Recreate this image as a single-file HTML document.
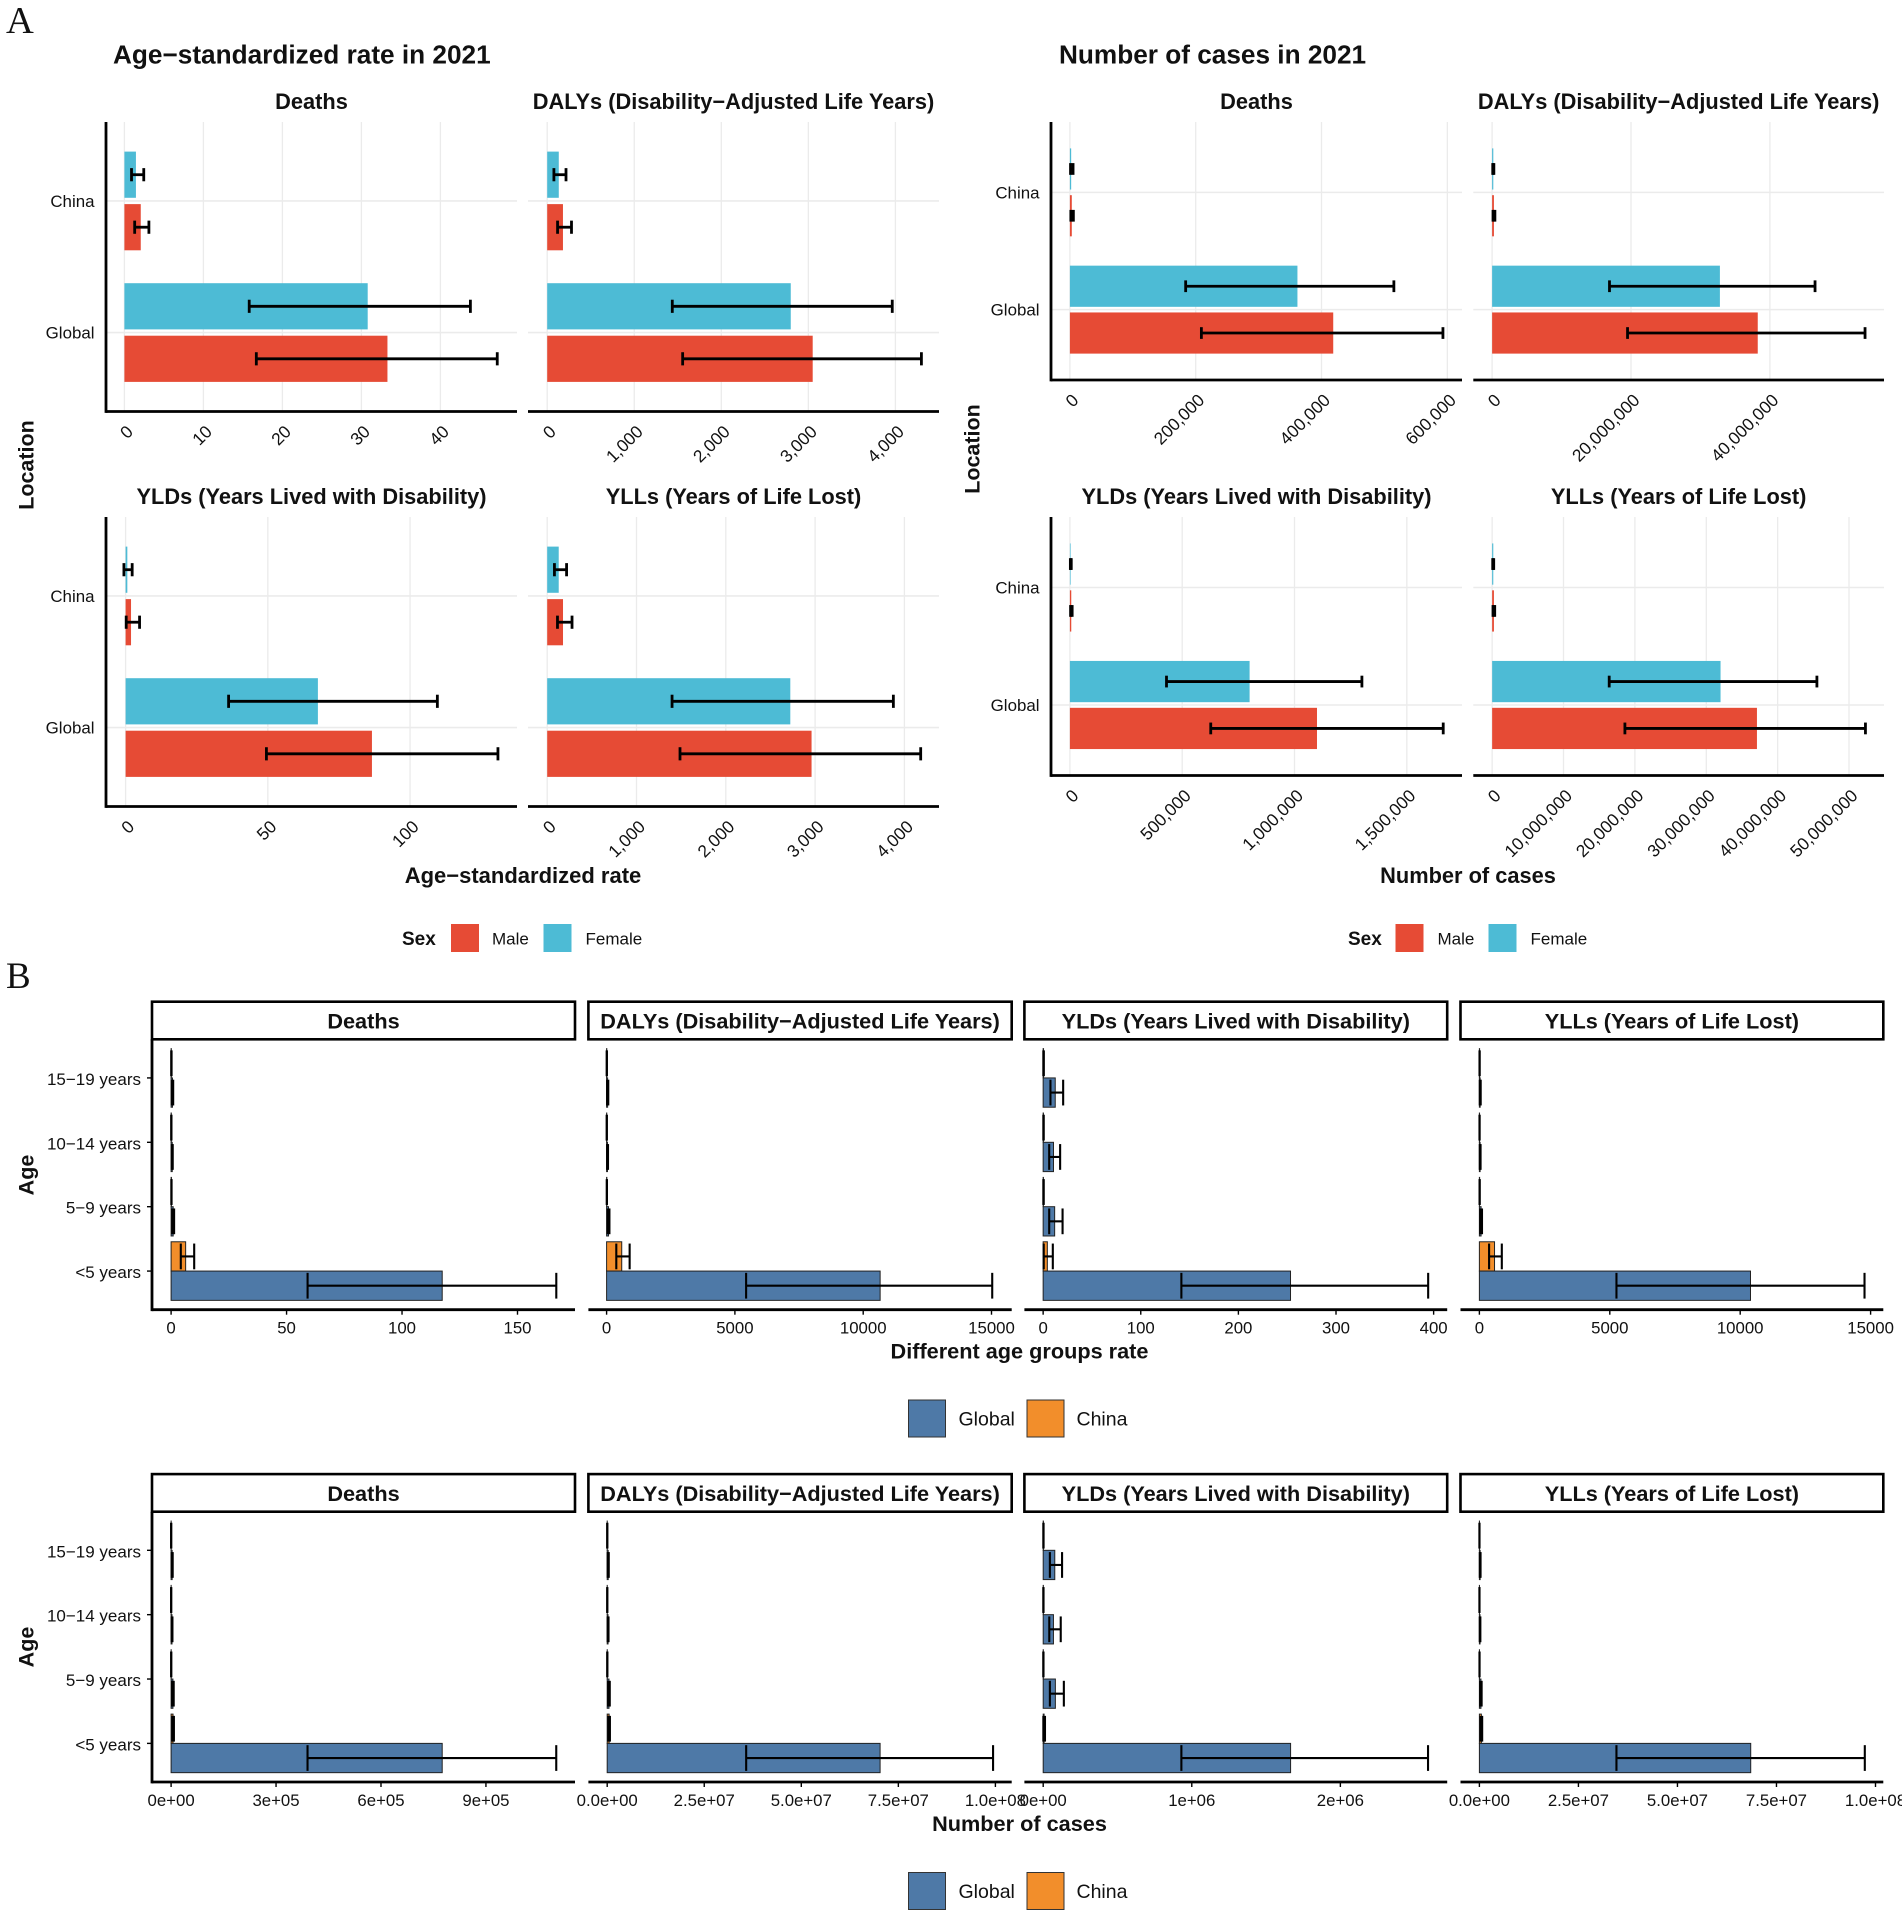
<!DOCTYPE html>
<html lang="en">
<head>
<meta charset="utf-8">
<title>Age-standardized rate and number of cases in 2021</title>
<style>
html,body{margin:0;padding:0;background:#fff;}
svg{display:block;}
text{font-family:"Liberation Sans",Arial,sans-serif;fill:#111;}
.serif{font-family:"Liberation Serif",serif;}
.b{font-weight:700;}
</style>
</head>
<body>
<svg id="figure" xmlns="http://www.w3.org/2000/svg" width="1902" height="1916" viewBox="0 0 1902 1916">
<rect x="0" y="0" width="1902" height="1916" fill="#fff"/>
<text class="serif" x="6" y="33" font-size="38.5" fill="#111">A</text>
<text class="serif" x="6" y="988" font-size="37" fill="#111">B</text>
<text class="b" x="113" y="63.5" font-size="26.2">Age−standardized rate in 2021</text>
<text class="b" x="1059" y="63.5" font-size="26.2">Number of cases in 2021</text>
<text class="b" x="523" y="883" font-size="22" text-anchor="middle">Age−standardized rate</text>
<text class="b" x="1468" y="883" font-size="21.8" text-anchor="middle">Number of cases</text>
<text class="b" transform="translate(33.5,465) rotate(-90)" font-size="21.5" text-anchor="middle">Location</text>
<text class="b" transform="translate(979.5,449) rotate(-90)" font-size="21.5" text-anchor="middle">Location</text>
<g>
<text class="b" x="402" y="945" font-size="19">Sex</text>
<rect x="451" y="924" width="28" height="28" fill="#E64B35"/>
<text x="492" y="944.5" font-size="17">Male</text>
<rect x="543.5" y="924" width="28" height="28" fill="#4DBBD5"/>
<text x="585.5" y="944.5" font-size="17">Female</text>
</g>
<g>
<text class="b" x="1348" y="945" font-size="19">Sex</text>
<rect x="1395.5" y="924" width="28" height="28" fill="#E64B35"/>
<text x="1437.5" y="944.5" font-size="17">Male</text>
<rect x="1488.5" y="924" width="28" height="28" fill="#4DBBD5"/>
<text x="1530.5" y="944.5" font-size="17">Female</text>
</g>
<text class="b" x="1019.5" y="1358.5" font-size="21.7" text-anchor="middle">Different age groups rate</text>
<text class="b" x="1019.5" y="1831" font-size="21.7" text-anchor="middle">Number of cases</text>
<text class="b" transform="translate(33.5,1175) rotate(-90)" font-size="21.5" text-anchor="middle">Age</text>
<text class="b" transform="translate(33.5,1647) rotate(-90)" font-size="21.5" text-anchor="middle">Age</text>
<g>
<rect x="908.5" y="1400" width="37" height="37" fill="#4E79A7" stroke="#333" stroke-width="1"/>
<text x="958.5" y="1425.5" font-size="19.5">Global</text>
<rect x="1027" y="1400" width="37" height="37" fill="#F28E2B" stroke="#333" stroke-width="1"/>
<text x="1076.5" y="1425.5" font-size="19.5">China</text>
</g>
<g>
<rect x="908.5" y="1872.5" width="37" height="37" fill="#4E79A7" stroke="#333" stroke-width="1"/>
<text x="958.5" y="1898" font-size="19.5">Global</text>
<rect x="1027" y="1872.5" width="37" height="37" fill="#F28E2B" stroke="#333" stroke-width="1"/>
<text x="1076.5" y="1898" font-size="19.5">China</text>
</g>
</svg>
<script>
/* ---------- shared categories and titles ---------- */
const locations = ['China', 'Global'];
const ageGroups = ['15−19 years', '10−14 years', '5−9 years', '<5 years'];
const measureTitles = ['Deaths', 'DALYs (Disability−Adjusted Life Years)', 'YLDs (Years Lived with Disability)', 'YLLs (Years of Life Lost)'];

/* ---------- A: age-standardized rate, values are [China, Global] ---------- */
const rateDeathsFemale = [1.46, 30.8];
const rateDeathsFemaleLow = [0.9, 15.8];
const rateDeathsFemaleHigh = [2.45, 43.8];
const rateDeathsMale = [2.07, 33.3];
const rateDeathsMaleLow = [1.3, 16.7];
const rateDeathsMaleHigh = [3.1, 47.2];
const rateDeathsDomain = [-2.33, 49.7];
const rateDeathsTicks = ['0', '10', '20', '30', '40'];

const rateDalysFemale = [133, 2798];
const rateDalysFemaleLow = [77, 1437];
const rateDalysFemaleHigh = [216, 3964];
const rateDalysMale = [181, 3050];
const rateDalysMaleLow = [119, 1556];
const rateDalysMaleHigh = [279, 4299];
const rateDalysDomain = [-220.6, 4501];
const rateDalysTicks = ['0', '1,000', '2,000', '3,000', '4,000'];

const rateYldsFemale = [0.6, 67.6];
const rateYldsFemaleLow = [-0.6, 36.2];
const rateYldsFemaleHigh = [2.3, 109.6];
const rateYldsMale = [1.9, 86.6];
const rateYldsMaleLow = [0.2, 49.5];
const rateYldsMaleHigh = [4.9, 130.9];
const rateYldsDomain = [-6.9, 137.6];
const rateYldsTicks = ['0', '50', '100'];

const rateYllsFemale = [129, 2722];
const rateYllsFemaleLow = [81, 1398];
const rateYllsFemaleHigh = [217, 3876];
const rateYllsMale = [177, 2960];
const rateYllsMaleLow = [115, 1487];
const rateYllsMaleHigh = [278, 4182];
const rateYllsDomain = [-215, 4387];
const rateYllsTicks = ['0', '1,000', '2,000', '3,000', '4,000'];

/* ---------- A: number of cases, values are [China, Global] ---------- */
const casesDeathsFemale = [2000, 361700];
const casesDeathsFemaleLow = [1000, 184000];
const casesDeathsFemaleHigh = [5000, 515000];
const casesDeathsMale = [3000, 418600];
const casesDeathsMaleLow = [1500, 209000];
const casesDeathsMaleHigh = [5500, 593000];
const casesDeathsDomain = [-30060, 623300];
const casesDeathsTicks = ['0', '200,000', '400,000', '600,000'];

const casesDalysFemale = [170000, 32800000];
const casesDalysFemaleLow = [90000, 16900000];
const casesDalysFemaleHigh = [250000, 46500000];
const casesDalysMale = [260000, 38250000];
const casesDalysMaleLow = [130000, 19500000];
const casesDalysMaleHigh = [400000, 53700000];
const casesDalysDomain = [-2710000, 56430000];
const casesDalysTicks = ['0', '20,000,000', '40,000,000'];

const casesYldsFemale = [3000, 800000];
const casesYldsFemaleLow = [2000, 430000];
const casesYldsFemaleHigh = [6000, 1300000];
const casesYldsMale = [6000, 1100000];
const casesYldsMaleLow = [3000, 627000];
const casesYldsMaleHigh = [10000, 1662000];
const casesYldsDomain = [-84200, 1745600];
const casesYldsTicks = ['0', '500,000', '1,000,000', '1,500,000'];

const casesYllsFemale = [160000, 32000000];
const casesYllsFemaleLow = [80000, 16400000];
const casesYllsFemaleHigh = [220000, 45500000];
const casesYllsMale = [250000, 37100000];
const casesYllsMaleLow = [120000, 18600000];
const casesYllsMaleHigh = [360000, 52300000];
const casesYllsDomain = [-2640000, 54900000];
const casesYllsTicks = ['0', '10,000,000', '20,000,000', '30,000,000', '40,000,000', '50,000,000'];

/* ---------- B: age-group rate, values follow ageGroups ---------- */
const ageRateDeathsGlobal = [0.6, 0.5, 0.9, 117.4];
const ageRateDeathsGlobalLow = [0.3, 0.3, 0.5, 59.1];
const ageRateDeathsGlobalHigh = [0.9, 0.7, 1.3, 166.8];
const ageRateDeathsChina = [0.1, 0.1, 0.15, 6.3];
const ageRateDeathsChinaLow = [0.05, 0.05, 0.1, 4.2];
const ageRateDeathsChinaHigh = [0.2, 0.15, 0.2, 10];
const ageRateDeathsDomain = [-8.27, 174.9];
const ageRateDeathsTicks = ['0', '50', '100', '150'];

const ageRateDalysGlobal = [40, 35, 75, 10660];
const ageRateDalysGlobalLow = [20, 20, 40, 5437];
const ageRateDalysGlobalHigh = [65, 55, 110, 15028];
const ageRateDalysChina = [8, 7, 10, 590];
const ageRateDalysChinaLow = [5, 5, 7, 378];
const ageRateDalysChinaHigh = [12, 10, 14, 898];
const ageRateDalysDomain = [-709, 15787];
const ageRateDalysTicks = ['0', '5000', '10000', '15000'];

const ageRateYldsGlobal = [12.4, 10.6, 11.8, 253.4];
const ageRateYldsGlobalLow = [7.5, 6.2, 6.2, 141.6];
const ageRateYldsGlobalHigh = [20.5, 17.4, 19.9, 394.4];
const ageRateYldsChina = [0.4, 0.3, 0.3, 4.3];
const ageRateYldsChinaLow = [0.2, 0.2, 0.2, 0.6];
const ageRateYldsChinaHigh = [0.7, 0.6, 0.6, 9.9];
const ageRateYldsDomain = [-19.2, 413.9];
const ageRateYldsTicks = ['0', '100', '200', '300', '400'];

const ageRateYllsGlobal = [30, 28, 65, 10395];
const ageRateYllsGlobalLow = [15, 15, 35, 5256];
const ageRateYllsGlobalHigh = [50, 45, 100, 14767];
const ageRateYllsChina = [8, 6, 9, 581];
const ageRateYllsChinaLow = [5, 4, 6, 372];
const ageRateYllsChinaHigh = [11, 9, 13, 860];
const ageRateYllsDomain = [-724, 15487];
const ageRateYllsTicks = ['0', '5000', '10000', '15000'];

/* ---------- B: age-group number of cases, values follow ageGroups ---------- */
const ageCasesDeathsGlobal = [3000, 2600, 5200, 775000];
const ageCasesDeathsGlobalLow = [1500, 1500, 2900, 390000];
const ageCasesDeathsGlobalHigh = [4500, 3800, 7400, 1101000];
const ageCasesDeathsChina = [200, 200, 300, 5500];
const ageCasesDeathsChinaLow = [100, 100, 200, 3500];
const ageCasesDeathsChinaHigh = [300, 300, 400, 8000];
const ageCasesDeathsDomain = [-54600, 1154600];
const ageCasesDeathsTicks = ['0e+00', '3e+05', '6e+05', '9e+05'];

const ageCasesDalysGlobal = [260000, 220000, 460000, 70300000];
const ageCasesDalysGlobalLow = [130000, 120000, 250000, 35800000];
const ageCasesDalysGlobalHigh = [400000, 340000, 660000, 99400000];
const ageCasesDalysChina = [20000, 20000, 30000, 500000];
const ageCasesDalysChinaLow = [10000, 10000, 20000, 300000];
const ageCasesDalysChinaHigh = [30000, 30000, 40000, 700000];
const ageCasesDalysDomain = [-4840000, 104200000];
const ageCasesDalysTicks = ['0.0e+00', '2.5e+07', '5.0e+07', '7.5e+07', '1.0e+08'];

const ageCasesYldsGlobal = [78000, 69000, 82000, 1665000];
const ageCasesYldsGlobalLow = [45000, 41000, 45000, 930000];
const ageCasesYldsGlobalHigh = [127000, 118000, 139000, 2590000];
const ageCasesYldsChina = [1500, 1200, 1000, 6000];
const ageCasesYldsChinaLow = [800, 700, 600, 1000];
const ageCasesYldsChinaHigh = [2500, 2200, 2000, 12000];
const ageCasesYldsDomain = [-126500, 2719000];
const ageCasesYldsTicks = ['0e+00', '1e+06', '2e+06'];

const ageCasesYllsGlobal = [190000, 160000, 390000, 68500000];
const ageCasesYllsGlobalLow = [100000, 90000, 210000, 34600000];
const ageCasesYllsGlobalHigh = [290000, 240000, 560000, 97300000];
const ageCasesYllsChina = [20000, 20000, 30000, 500000];
const ageCasesYllsChinaLow = [10000, 10000, 20000, 300000];
const ageCasesYllsChinaHigh = [30000, 30000, 40000, 700000];
const ageCasesYllsDomain = [-4770000, 101970000];
const ageCasesYllsTicks = ['0.0e+00', '2.5e+07', '5.0e+07', '7.5e+07', '1.0e+08'];

/* ---------- drawing helpers ---------- */
const SVG_NS = 'http://www.w3.org/2000/svg';
const figure = document.getElementById('figure');

function make(tag, attrs, parent) {
  const el = document.createElementNS(SVG_NS, tag);
  for (const k in attrs) el.setAttribute(k, attrs[k]);
  parent.appendChild(el);
  return el;
}
function line(parent, x1, y1, x2, y2, stroke, width) {
  return make('line', { x1: x1, y1: y1, x2: x2, y2: y2, stroke: stroke, 'stroke-width': width }, parent);
}
function label(parent, str, x, y, size, anchor, bold) {
  const t = make('text', { x: x, y: y + size * 0.35, 'font-size': size, 'text-anchor': anchor }, parent);
  if (bold) t.setAttribute('font-weight', '700');
  t.textContent = str;
  return t;
}
function linearX(domain, left, right) {
  return function (v) { return left + (v - domain[0]) / (domain[1] - domain[0]) * (right - left); };
}
function bandY(count, top, bottom) {
  const step = (bottom - top) / (count - 1 + 1.2);
  const at = function (i) { return top + 0.6 * step + i * step; };
  at.step = step;
  return at;
}
function tickValue(str) { return Number(str.replace(/,/g, '')); }

function errorBar(parent, x, yMid, capH, low, high, width) {
  const g = make('g', {}, parent);
  
  
  const stem = line(g, x(low), yMid, x(high), yMid, '#000', width);
  
  
  const capLow = line(g, x(low), yMid - capH / 2, x(low), yMid + capH / 2, '#000', width);
  
  
  const capHigh = line(g, x(high), yMid - capH / 2, x(high), yMid + capH / 2, '#000', width);
  
  
}

/* A-style panel: gridlines, no strip box, rotated tick labels */
function drawSexPanel(cfg) {
  const g = make('g', {}, figure);
  
  
  const x = linearX(cfg.domain, cfg.left, cfg.right);
  const y = bandY(locations.length, cfg.top, cfg.bottom);
  const barH = 0.351 * y.step;
  const gap = 0.024 * y.step;

  const title = label(g, cfg.title, (cfg.left + cfg.right) / 2, cfg.top - 20.5, 21.8, 'middle', true);
  
  

  cfg.ticks.forEach(function (t) {
    const gl = line(g, x(tickValue(t)), cfg.top, x(tickValue(t)), cfg.bottom, '#ebebeb', 1.3);
    
    
  });
  locations.forEach(function (loc, i) {
    const gl = line(g, cfg.left, y(i), cfg.right, y(i), '#ebebeb', 1.6);
    
    
  });

  locations.forEach(function (loc, i) {
    const fy = y(i) - gap - barH;
    const my = y(i) + gap;
    const female = make('rect', { x: x(0), y: fy, width: x(cfg.female[i]) - x(0), height: barH, fill: '#4DBBD5' }, g);
    
    
    const male = make('rect', { x: x(0), y: my, width: x(cfg.male[i]) - x(0), height: barH, fill: '#E64B35' }, g);
    
    
    errorBar(g, x, fy + barH / 2, 0.1 * y.step, cfg.femaleLow[i], cfg.femaleHigh[i], 2.8);
    errorBar(g, x, my + barH / 2, 0.1 * y.step, cfg.maleLow[i], cfg.maleHigh[i], 2.8);
  });

  const axis = line(g, cfg.left, cfg.bottom, cfg.right, cfg.bottom, '#000', 2.8);
  
  
  if (cfg.showY) {
    const yAxis = line(g, cfg.left, cfg.top, cfg.left, cfg.bottom + 1.4, '#000', 2.8);
    
    
    locations.forEach(function (loc, i) {
      const yl = label(g, loc, cfg.left - 11.5, y(i), 16.9, 'end', false);
      
      
    });
  }
  cfg.ticks.forEach(function (t) {
    const tl = make('text', { transform: 'translate(' + (x(tickValue(t)) + 0.5) + ',' + (cfg.bottom + 12) + ') rotate(-45)', 'font-size': 17.4, 'text-anchor': 'end', dy: '0.75em' }, g);
    tl.textContent = t;
    
    
  });
}

/* B-style panel: boxed strip title, axis ticks, horizontal tick labels */
function drawAgePanel(cfg) {
  const g = make('g', {}, figure);
  
  
  const x = linearX(cfg.domain, cfg.left, cfg.right);
  const y = bandY(ageGroups.length, cfg.top, cfg.bottom);
  const barH = 0.455 * y.step;

  const strip = make('rect', { x: cfg.left, y: cfg.top - cfg.stripH, width: cfg.right - cfg.left, height: cfg.stripH, fill: '#fff', stroke: '#000', 'stroke-width': 2.6 }, g);
  
  
  const title = label(g, cfg.title, (cfg.left + cfg.right) / 2, cfg.top - cfg.stripH / 2 + 0.5, 21.7, 'middle', true);
  
  

  ageGroups.forEach(function (age, i) {
    const cy = y(i) - barH;
    const gy = y(i);
    const china = make('rect', { x: x(0), y: cy, width: Math.max(0, x(cfg.china[i]) - x(0)), height: barH, fill: '#F28E2B', stroke: '#222', 'stroke-width': 1 }, g);
    
    
    const global = make('rect', { x: x(0), y: gy, width: Math.max(0, x(cfg.global[i]) - x(0)), height: barH, fill: '#4E79A7', stroke: '#222', 'stroke-width': 1 }, g);
    
    
    errorBar(g, x, cy + barH / 2, 0.4 * y.step, cfg.chinaLow[i], cfg.chinaHigh[i], 2.1);
    errorBar(g, x, gy + barH / 2, 0.4 * y.step, cfg.globalLow[i], cfg.globalHigh[i], 2.1);
  });

  const axis = line(g, cfg.left, cfg.bottom, cfg.right, cfg.bottom, '#000', 2.8);
  
  
  cfg.ticks.forEach(function (t) {
    const px = x(tickValue(t));
    const mark = line(g, px, cfg.bottom, px, cfg.bottom + 5, '#000', 1.4);
    
    
    const tl = label(g, t, px, cfg.bottom + 18, 16.8, 'middle', false);
    
    
  });
  if (cfg.showY) {
    const yAxis = line(g, cfg.left, cfg.top, cfg.left, cfg.bottom + 1.4, '#000', 2.8);
    
    
    ageGroups.forEach(function (age, i) {
      const mark = line(g, cfg.left - 5, y(i), cfg.left, y(i), '#000', 1.4);
      
      
      const yl = label(g, age, cfg.left - 11, y(i) + 1, 17, 'end', false);
      
      
    });
  }
}

/* ---------- panels: A ---------- */
drawSexPanel({ name: 'rate-deaths-panel', title: measureTitles[0], left: 106, right: 517, top: 122, bottom: 411.5, showY: true, domain: rateDeathsDomain, ticks: rateDeathsTicks, female: rateDeathsFemale, femaleLow: rateDeathsFemaleLow, femaleHigh: rateDeathsFemaleHigh, male: rateDeathsMale, maleLow: rateDeathsMaleLow, maleHigh: rateDeathsMaleHigh });
drawSexPanel({ name: 'rate-dalys-panel', title: measureTitles[1], left: 528, right: 939, top: 122, bottom: 411.5, showY: false, domain: rateDalysDomain, ticks: rateDalysTicks, female: rateDalysFemale, femaleLow: rateDalysFemaleLow, femaleHigh: rateDalysFemaleHigh, male: rateDalysMale, maleLow: rateDalysMaleLow, maleHigh: rateDalysMaleHigh });
drawSexPanel({ name: 'rate-ylds-panel', title: measureTitles[2], left: 106, right: 517, top: 517, bottom: 806.5, showY: true, domain: rateYldsDomain, ticks: rateYldsTicks, female: rateYldsFemale, femaleLow: rateYldsFemaleLow, femaleHigh: rateYldsFemaleHigh, male: rateYldsMale, maleLow: rateYldsMaleLow, maleHigh: rateYldsMaleHigh });
drawSexPanel({ name: 'rate-ylls-panel', title: measureTitles[3], left: 528, right: 939, top: 517, bottom: 806.5, showY: false, domain: rateYllsDomain, ticks: rateYllsTicks, female: rateYllsFemale, femaleLow: rateYllsFemaleLow, femaleHigh: rateYllsFemaleHigh, male: rateYllsMale, maleLow: rateYllsMaleLow, maleHigh: rateYllsMaleHigh });

drawSexPanel({ name: 'cases-deaths-panel', title: measureTitles[0], left: 1051, right: 1462, top: 122, bottom: 380, showY: true, domain: casesDeathsDomain, ticks: casesDeathsTicks, female: casesDeathsFemale, femaleLow: casesDeathsFemaleLow, femaleHigh: casesDeathsFemaleHigh, male: casesDeathsMale, maleLow: casesDeathsMaleLow, maleHigh: casesDeathsMaleHigh });
drawSexPanel({ name: 'cases-dalys-panel', title: measureTitles[1], left: 1473.3, right: 1884, top: 122, bottom: 380, showY: false, domain: casesDalysDomain, ticks: casesDalysTicks, female: casesDalysFemale, femaleLow: casesDalysFemaleLow, femaleHigh: casesDalysFemaleHigh, male: casesDalysMale, maleLow: casesDalysMaleLow, maleHigh: casesDalysMaleHigh });
drawSexPanel({ name: 'cases-ylds-panel', title: measureTitles[2], left: 1051, right: 1462, top: 517, bottom: 775.5, showY: true, domain: casesYldsDomain, ticks: casesYldsTicks, female: casesYldsFemale, femaleLow: casesYldsFemaleLow, femaleHigh: casesYldsFemaleHigh, male: casesYldsMale, maleLow: casesYldsMaleLow, maleHigh: casesYldsMaleHigh });
drawSexPanel({ name: 'cases-ylls-panel', title: measureTitles[3], left: 1473.3, right: 1884, top: 517, bottom: 775.5, showY: false, domain: casesYllsDomain, ticks: casesYllsTicks, female: casesYllsFemale, femaleLow: casesYllsFemaleLow, femaleHigh: casesYllsFemaleHigh, male: casesYllsMale, maleLow: casesYllsMaleLow, maleHigh: casesYllsMaleHigh });

/* ---------- panels: B ---------- */
drawAgePanel({ name: 'age-rate-deaths-panel', title: measureTitles[0], left: 152, right: 575, top: 1039.3, bottom: 1309.7, stripH: 37.6, showY: true, domain: ageRateDeathsDomain, ticks: ageRateDeathsTicks, global: ageRateDeathsGlobal, globalLow: ageRateDeathsGlobalLow, globalHigh: ageRateDeathsGlobalHigh, china: ageRateDeathsChina, chinaLow: ageRateDeathsChinaLow, chinaHigh: ageRateDeathsChinaHigh });
drawAgePanel({ name: 'age-rate-dalys-panel', title: measureTitles[1], left: 588.4, right: 1011.7, top: 1039.3, bottom: 1309.7, stripH: 37.6, showY: false, domain: ageRateDalysDomain, ticks: ageRateDalysTicks, global: ageRateDalysGlobal, globalLow: ageRateDalysGlobalLow, globalHigh: ageRateDalysGlobalHigh, china: ageRateDalysChina, chinaLow: ageRateDalysChinaLow, chinaHigh: ageRateDalysChinaHigh });
drawAgePanel({ name: 'age-rate-ylds-panel', title: measureTitles[2], left: 1024.4, right: 1447.2, top: 1039.3, bottom: 1309.7, stripH: 37.6, showY: false, domain: ageRateYldsDomain, ticks: ageRateYldsTicks, global: ageRateYldsGlobal, globalLow: ageRateYldsGlobalLow, globalHigh: ageRateYldsGlobalHigh, china: ageRateYldsChina, chinaLow: ageRateYldsChinaLow, chinaHigh: ageRateYldsChinaHigh });
drawAgePanel({ name: 'age-rate-ylls-panel', title: measureTitles[3], left: 1460.5, right: 1883.3, top: 1039.3, bottom: 1309.7, stripH: 37.6, showY: false, domain: ageRateYllsDomain, ticks: ageRateYllsTicks, global: ageRateYllsGlobal, globalLow: ageRateYllsGlobalLow, globalHigh: ageRateYllsGlobalHigh, china: ageRateYllsChina, chinaLow: ageRateYllsChinaLow, chinaHigh: ageRateYllsChinaHigh });

drawAgePanel({ name: 'age-cases-deaths-panel', title: measureTitles[0], left: 152, right: 575, top: 1511.7, bottom: 1782, stripH: 37.6, showY: true, domain: ageCasesDeathsDomain, ticks: ageCasesDeathsTicks, global: ageCasesDeathsGlobal, globalLow: ageCasesDeathsGlobalLow, globalHigh: ageCasesDeathsGlobalHigh, china: ageCasesDeathsChina, chinaLow: ageCasesDeathsChinaLow, chinaHigh: ageCasesDeathsChinaHigh });
drawAgePanel({ name: 'age-cases-dalys-panel', title: measureTitles[1], left: 588.4, right: 1011.7, top: 1511.7, bottom: 1782, stripH: 37.6, showY: false, domain: ageCasesDalysDomain, ticks: ageCasesDalysTicks, global: ageCasesDalysGlobal, globalLow: ageCasesDalysGlobalLow, globalHigh: ageCasesDalysGlobalHigh, china: ageCasesDalysChina, chinaLow: ageCasesDalysChinaLow, chinaHigh: ageCasesDalysChinaHigh });
drawAgePanel({ name: 'age-cases-ylds-panel', title: measureTitles[2], left: 1024.4, right: 1447.2, top: 1511.7, bottom: 1782, stripH: 37.6, showY: false, domain: ageCasesYldsDomain, ticks: ageCasesYldsTicks, global: ageCasesYldsGlobal, globalLow: ageCasesYldsGlobalLow, globalHigh: ageCasesYldsGlobalHigh, china: ageCasesYldsChina, chinaLow: ageCasesYldsChinaLow, chinaHigh: ageCasesYldsChinaHigh });
drawAgePanel({ name: 'age-cases-ylls-panel', title: measureTitles[3], left: 1460.5, right: 1883.3, top: 1511.7, bottom: 1782, stripH: 37.6, showY: false, domain: ageCasesYllsDomain, ticks: ageCasesYllsTicks, global: ageCasesYllsGlobal, globalLow: ageCasesYllsGlobalLow, globalHigh: ageCasesYllsGlobalHigh, china: ageCasesYllsChina, chinaLow: ageCasesYllsChinaLow, chinaHigh: ageCasesYllsChinaHigh });
</script>
</body>
</html>
